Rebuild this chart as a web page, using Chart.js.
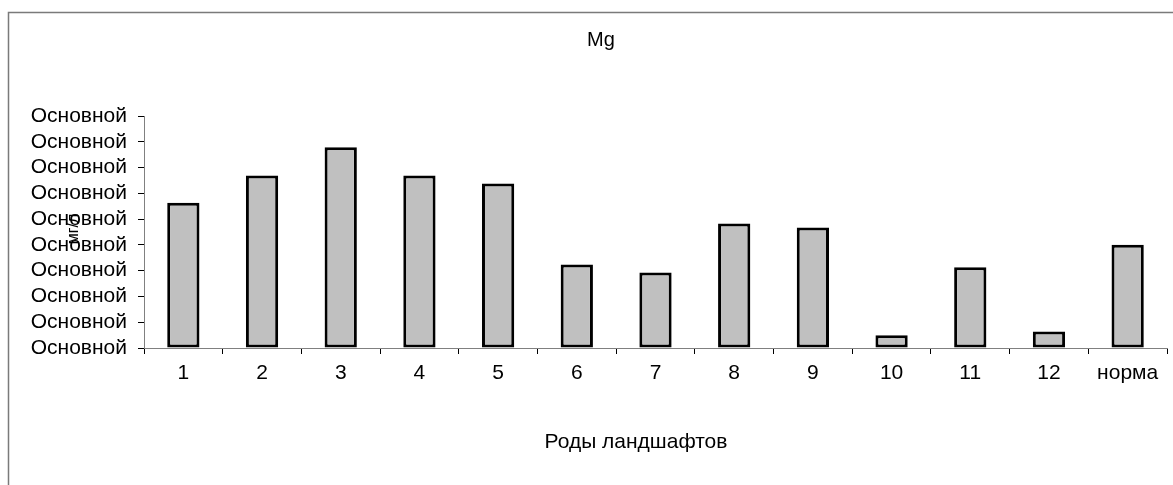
<!DOCTYPE html>
<html>
<head>
<meta charset="utf-8">
<script src="https://cdn.jsdelivr.net/npm/chart.js@4"></script>
<style>
  html, body { margin: 0; padding: 0; background: #fff; }
  #wrap { width: 1173px; height: 485px; }
</style>
</head>
<body>
<div id="wrap"><canvas id="myChart" width="1173" height="485"></canvas></div>
<script>
const labels = ['1', '2', '3', '4', '5', '6', '7', '8', '9', '10', '11', '12', 'норма'];
const values = [5.63, 6.69, 7.79, 6.69, 6.38, 3.24, 2.93, 4.83, 4.67, 0.49, 3.13, 0.64, 4.01];
const yTickText = 'Основной';
const titleText = 'Mg';
const xTitleText = 'Роды ландшафтов';
const yTitleText = 'мг/л';

const FONT = "'Liberation Sans', Arial, sans-serif";

// frame, chart title and axis titles drawn at their places in the original
const extras = {
    id: 'extras',
    beforeDraw(chart) {
        const ctx = chart.ctx;
        ctx.save();
        ctx.fillStyle = '#fff';
        ctx.fillRect(0, 0, chart.width, chart.height);
        ctx.strokeStyle = '#7a7a7a';
        ctx.lineWidth = 1.5;
        ctx.beginPath();
        ctx.moveTo(8.5, chart.height + 2);
        ctx.lineTo(8.5, 12.5);
        ctx.lineTo(chart.width + 2, 12.5);
        ctx.stroke();
        ctx.restore();
    },
    afterDraw(chart) {
        const ctx = chart.ctx;
        ctx.save();
        ctx.fillStyle = '#000';
        ctx.textAlign = 'center';
        ctx.textBaseline = 'alphabetic';
        ctx.font = '20px ' + FONT;
        ctx.fillText(titleText, 601, 46);
        ctx.font = '21px ' + FONT;
        ctx.fillText(xTitleText, 636, 448);
        ctx.translate(74, 229);
        ctx.rotate(-Math.PI / 2);
        ctx.font = '16px ' + FONT;
        ctx.textBaseline = 'middle';
        ctx.fillText(yTitleText, 0, 0);
        ctx.restore();
    }
};

const data = {
    labels: labels,
    datasets: [
        {
            data: values,
            backgroundColor: '#c0c0c0',
            borderColor: '#000',
            borderWidth: 3,
            borderSkipped: false,
            barPercentage: 0.41,
            categoryPercentage: 1,
        },
    ]
};

const config = {
    type: 'bar',
    data: data,
    plugins: [extras],
    options: {
        responsive: false,
        animation: false,
        devicePixelRatio: 1,
        layout: {
            padding: { left: 0, right: 6, top: 116, bottom: 0 }
        },
        plugins: {
            legend: { display: false },
            tooltip: { enabled: false },
            title: { display: false }
        },
        scales: {
            x: {
                afterFit(scale) { scale.height = 137; },
                grid: {
                    display: true,
                    offset: true,
                    drawOnChartArea: false,
                    drawTicks: true,
                    tickLength: 6,
                    color: '#000'
                },
                border: { color: '#808080', width: 1 },
                ticks: {
                    color: '#000',
                    padding: 7,
                    maxRotation: 0,
                    autoSkip: false,
                    font: { family: FONT, size: 21 }
                }
            },
            y: {
                min: 0,
                max: 9,
                afterFit(scale) { scale.width = 144; },
                grid: {
                    display: true,
                    drawOnChartArea: false,
                    drawTicks: true,
                    tickLength: 6,
                    color: '#000'
                },
                border: { color: '#808080', width: 1 },
                ticks: {
                    stepSize: 1,
                    autoSkip: false,
                    color: '#000',
                    padding: 11,
                    font: { family: FONT, size: 21 },
                    callback: () => yTickText
                }
            }
        }
    }
};

const chart = new Chart(
    document.getElementById('myChart'),
    config
);
</script>
</body>
</html>
